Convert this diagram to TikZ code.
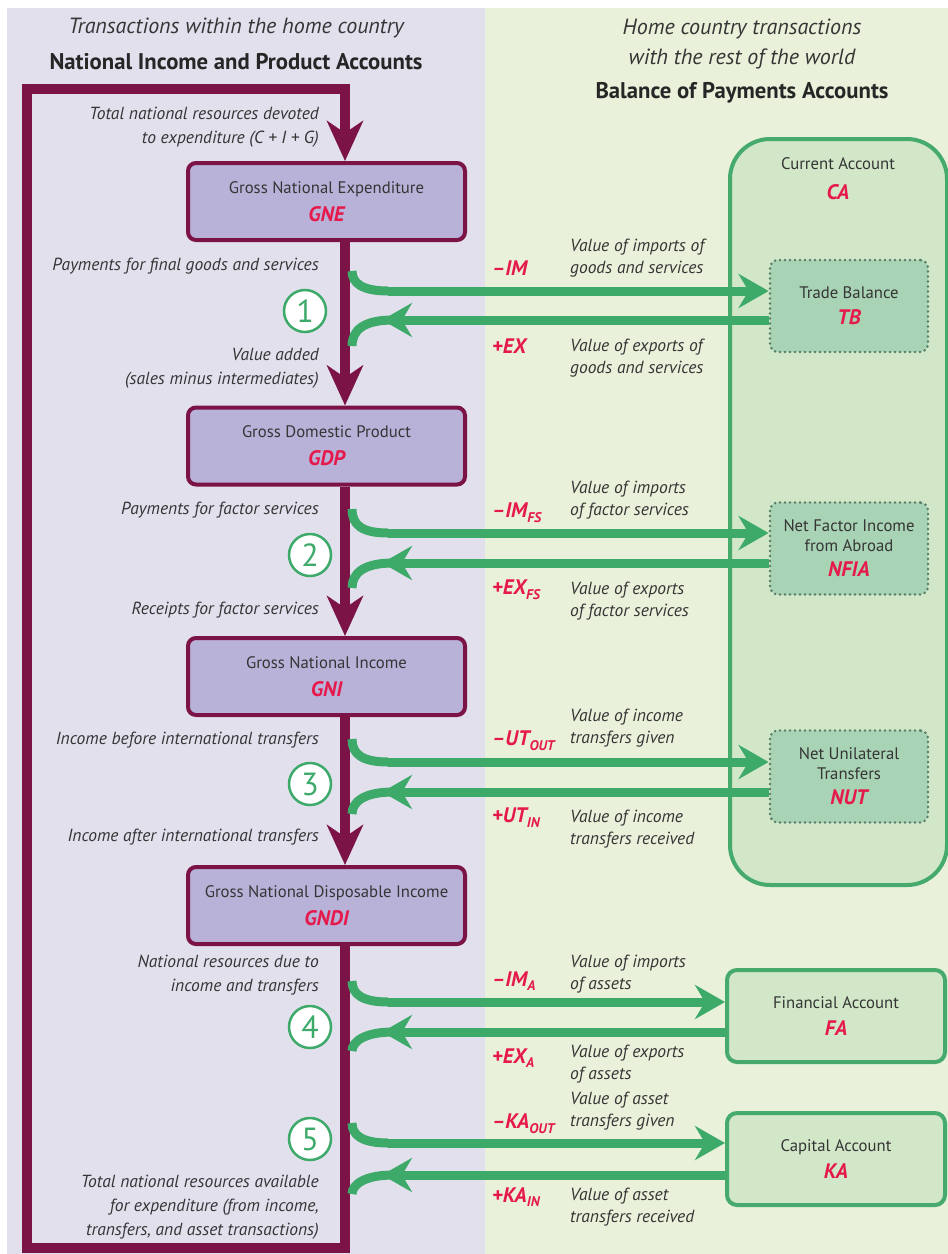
\documentclass[tikz,border=0pt]{standalone}
\usepackage{fontspec}
\setmainfont{PT Sans}
\usetikzlibrary{arrows.meta,calc}
\definecolor{lav}{HTML}{E3E0EE}
\definecolor{lgr}{HTML}{E9F1DA}
\definecolor{maroon}{HTML}{7B1346}
\definecolor{boxp}{HTML}{B8B2D9}
\definecolor{redc}{HTML}{E5194B}
\definecolor{gflow}{HTML}{3DAA6A}
\definecolor{cafill}{HTML}{D1E7C7}
\definecolor{caborder}{HTML}{46AA6C}
\definecolor{dotfill}{HTML}{A9D3B5}
\definecolor{dotc}{HTML}{557D68}
\definecolor{txt}{HTML}{353535}
\newcommand{\sbs}[1]{\raisebox{-0.45ex}{\fontsize{14}{14}\selectfont #1}}
\newcommand{\cd}[1]{{\fontsize{21}{21}\selectfont\bfseries\itshape\color{redc}#1}}
\begin{document}
\begin{tikzpicture}[x=1pt,y=-1pt,
  hdit/.style={font=\fontsize{22}{26}\selectfont\itshape, text=txt, inner sep=0},
  hdbf/.style={font=\fontsize{22.7}{26}\selectfont\bfseries, text=black!85, inner sep=0},
  acct/.style={draw=maroon, line width=4pt, rounded corners=8pt, fill=boxp, minimum width=277pt, minimum height=77pt, align=center, text=txt, font=\fontsize{16.7}{19}\selectfont, inner sep=0},
  dotbox/.style={draw=dotc, line width=2.8pt, dash pattern=on 0pt off 5pt, line cap=round, rounded corners=8pt, fill=dotfill, minimum width=158pt, minimum height=92pt, align=center, text=txt, font=\fontsize{16.7}{20}\selectfont, inner sep=0},
  solbox/.style={draw=caborder, line width=4pt, rounded corners=10pt, fill=cafill, minimum width=218pt, minimum height=92pt, align=center, text=txt, font=\fontsize{16.7}{19}\selectfont, inner sep=0},
  lbl/.style={font=\fontsize{17.5}{24}\selectfont\itshape, text=txt, align=right, anchor=east, inner sep=0},
  desc/.style={font=\fontsize{17.5}{22.5}\selectfont\itshape, text=txt, align=left, anchor=west, inner sep=0},
  code/.style={font=\fontsize{21}{22}\selectfont\bfseries\itshape, text=redc, anchor=west, inner sep=0},
  trunk/.style={draw=maroon, line width=10pt, line join=miter, -{Stealth[length=40pt,width=36pt,inset=12pt]}},
  gline/.style={draw=gflow, line width=9pt},
  garrow/.style={draw=gflow, line width=9pt, -{Stealth[length=30pt,width=34pt,inset=10pt]}},
  num/.style={circle, draw=gflow, line width=2.5pt, fill=white, minimum size=42pt, inner sep=0, text=gflow, font=\fontsize{32}{32}\selectfont}
]
\useasboundingbox (0,0) rectangle (948,1254);
\fill[white] (0,0) rectangle (948,1254);
\fill[lav] (7,8) rectangle (485,1254);
\fill[lgr] (485,8) rectangle (948,1254);

% headers
\node[hdit] (h1) at (236,28) {Transactions within the home country};
\node[hdbf] (h2) at (236,62) {National Income and Product Accounts};
\node[hdit] (h3) at (742,29) {Home country transactions};
\node[hdit] (h4) at (742,59) {with the rest of the world};
\node[hdbf] (h5) at (742,93) {Balance of Payments Accounts};

% current account big box
\node[draw=caborder, line width=4pt, rounded corners=40pt, fill=cafill, minimum width=217pt, minimum height=746pt, anchor=north west, inner sep=0] (ca) at (728,137) {};
\node[font=\fontsize{16.7}{19}\selectfont, text=txt, inner sep=0] (catitle) at (838,164) {Current Account};
\node[inner sep=0] (cacode) at (838,192) {\cd{CA}};

% national accounts boxes
\node[acct] (gne) at (326.5,201.5) {Gross National Expenditure\\[9pt]\cd{GNE}};
\node[acct] (gdp) at (326.5,446) {Gross Domestic Product\\[9pt]\cd{GDP}};
\node[acct] (gni) at (326.5,676.5) {Gross National Income\\[9pt]\cd{GNI}};
\node[acct] (gndi) at (326.5,905.5) {Gross National Disposable Income\\[9pt]\cd{GNDI}};

% BoP boxes
\node[dotbox] (tb) at (849,306) {Trade Balance\\[6pt]\cd{TB}};
\node[dotbox] (nfia) at (849,548.5) {Net Factor Income\\from Abroad\\[5pt]\cd{NFIA}};
\node[dotbox] (nut) at (849,776.5) {Net Unilateral\\Transfers\\[5pt]\cd{NUT}};
\node[solbox] (fa) at (836,1016) {Financial Account\\[8pt]\cd{FA}};
\node[solbox] (ka) at (836,1159) {Capital Account\\[8pt]\cd{KA}};

% trunk and loop
\coordinate (tx) at (345,0);
\coordinate (bl) at (27,1248);
\coordinate (tl) at (27,89);
\draw[trunk] (gne.south -| tx) -- (gdp.north -| tx);
\draw[trunk] (gdp.south -| tx) -- (gni.north -| tx);
\draw[trunk] (gni.south -| tx) -- (gndi.north -| tx);
\draw[trunk] (gndi.south -| tx) -- (tx |- bl) -- (bl) -- (tl) -- (tx |- tl) -- (gne.north -| tx);

% green flows
\foreach \s/\o/\i/\j/\b in {271/291/320/346/tb, 509/533/563/588/nfia, 739/762/792/814/nut, 981/1002/1032/1051/fa, 1123/1143/1175/1194/ka}{
  \coordinate (os\b) at (352,\s);
  \coordinate (oe\b) at (388,\o);
  \coordinate (ib\b) at (393,\i);
  \coordinate (it\b) at (382,\i);
  \coordinate (ie\b) at (352,\j);
  \draw[gline] (os\b) .. controls (352,\o-8) and (362,\o) .. (oe\b);
  \draw[garrow] (oe\b) -- (oe\b -| \b.west);
  \draw[gline] (ib\b) .. controls (364,\i) and (352,\i+10) .. (ie\b);
  \draw[garrow] (it\b -| \b.west) -- (it\b);
}

% circled numbers
\node[num] (n1) at (305,311) {1};
\node[num] (n2) at (310,555) {2};
\node[num] (n3) at (310,784) {3};
\node[num] (n4) at (310,1027) {4};
\node[num] (n5) at (310,1139) {5};

% left labels
\node[lbl] (l0) at (319,127) {Total national resources devoted\\to expenditure (C + I + G)};
\node[lbl] (l1) at (319,266) {Payments for final goods and services};
\node[lbl] (l2) at (319,368) {Value added\\(sales minus intermediates)};
\node[lbl] (l3) at (319,510) {Payments for factor services};
\node[lbl] (l4) at (319,610) {Receipts for factor services};
\node[lbl] (l5) at (319,740) {Income before international transfers};
\node[lbl] (l6) at (319,837) {Income after international transfers};
\node[lbl] (l7) at (319,975) {National resources due to\\income and transfers};
\node[lbl] (l8) at (319,1207) {Total national resources available\\for expenditure (from income,\\transfers, and asset transactions)};

% red codes
\node[code] (c1) at (492,268) {–IM};
\node[code] (c2) at (492,346) {+EX};
\node[code] (c3) at (492,513) {–IM\sbs{FS}};
\node[code] (c4) at (492,590) {+EX\sbs{FS}};
\node[code] (c5) at (492,741) {–UT\sbs{OUT}};
\node[code] (c6) at (492,818) {+UT\sbs{IN}};
\node[code] (c7) at (492,981) {–IM\sbs{A}};
\node[code] (c8) at (492,1058) {+EX\sbs{A}};
\node[code] (c9) at (492,1124) {–KA\sbs{OUT}};
\node[code] (c10) at (492,1197) {+KA\sbs{IN}};

% descriptions
\node[desc] (d1) at (570,258) {Value of imports of\\goods and services};
\node[desc] (d2) at (570,358) {Value of exports of\\goods and services};
\node[desc] (d3) at (570,500) {Value of imports\\of factor services};
\node[desc] (d4) at (570,601) {Value of exports\\of factor services};
\node[desc] (d5) at (570,728) {Value of income\\transfers given};
\node[desc] (d6) at (570,829) {Value of income\\transfers received};
\node[desc] (d7) at (570,974) {Value of imports\\of assets};
\node[desc] (d8) at (570,1064) {Value of exports\\of assets};
\node[desc] (d9) at (570,1111) {Value of asset\\transfers given};
\node[desc] (d10) at (570,1207) {Value of asset\\transfers received};
\end{tikzpicture}
\end{document}
